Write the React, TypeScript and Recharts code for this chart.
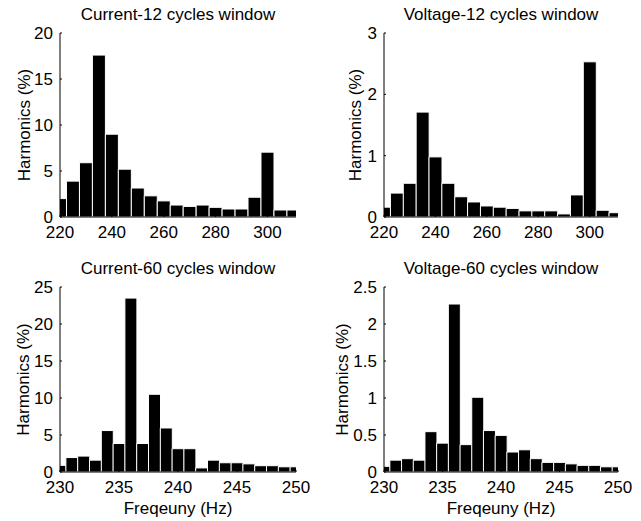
import React from "react";
import {Bar, BarChart, XAxis, YAxis} from "recharts";

// frequency bins (Hz)
const freq12 = [220, 225, 230, 235, 240, 245, 250, 255, 260, 265, 270, 275, 280, 285, 290, 295, 300, 305, 310];
const freq60 = [230, 231, 232, 233, 234, 235, 236, 237, 238, 239, 240, 241, 242, 243, 244, 245, 246, 247, 248, 249, 250];

// harmonics (%)
const current12 = [2.0, 3.9, 5.9, 17.6, 9.0, 5.2, 3.15, 2.3, 1.75, 1.3, 1.15, 1.3, 1.05, 0.87, 0.87, 2.15, 7.05, 0.76, 0.76];
const voltage12 = [0.16, 0.39, 0.55, 1.71, 0.98, 0.55, 0.33, 0.245, 0.18, 0.16, 0.14, 0.1, 0.1, 0.1, 0.05, 0.36, 2.53, 0.11, 0.07];
const current60 = [0.9, 1.95, 2.15, 1.6, 5.6, 3.85, 23.5, 3.85, 10.5, 5.95, 3.15, 3.15, 0.55, 1.6, 1.25, 1.25, 1.1, 0.85, 0.85, 0.7, 0.7];
const voltage60 = [0.077, 0.16, 0.18, 0.16, 0.545, 0.39, 2.27, 0.37, 1.01, 0.56, 0.495, 0.27, 0.3, 0.18, 0.13, 0.13, 0.11, 0.09, 0.09, 0.07, 0.07];

const xTicks12 = [220, 240, 260, 280, 300];
const xTicks60 = [230, 235, 240, 245, 250];

const FONT = '"Liberation Sans", Arial, Helvetica, sans-serif';
const FS = 17;
const tickStyle = {fill: "#000", fontSize: FS, fontFamily: FONT};
const noLabel = () => <g/>;

interface PanelProps {
  title: string;
  freqs: number[];
  values: number[];
  xDomain: [number, number];
  xTicks: number[];
  yMax: number;
  yTicks: number[];
  left: number;
  top: number;
  width: number;
  height: number;
  plotLeft: number;
  plotRight: number;
  plotTop: number;
  plotBottom: number;
  yLabelX: number;
  xLabel?: string;
}

function Panel(p: PanelProps) {
  const data = p.freqs.map((f, i) => ({f, v: p.values[i]}));
  const plotCx = (p.plotLeft + p.plotRight) / 2;

  const yLabel = ({viewBox}: any) => {
    const cy = viewBox.y + viewBox.height / 2;
    return (
      <text x={p.yLabelX} y={cy} transform={`rotate(-90 ${p.yLabelX} ${cy})`} textAnchor="middle"
            dominantBaseline="central" fontSize={FS} fontFamily={FONT} fill="#000">
        Harmonics (%)
      </text>
    );
  };

  const xLabel = () => (
    <text x={plotCx} y={p.plotBottom + 42} textAnchor="middle" fontSize={FS} fontFamily={FONT} fill="#000">
      {p.xLabel}
    </text>
  );

  return (
    <div style={{position: "absolute", left: p.left, top: p.top, width: p.width, height: p.height}}>
      <div style={{
        position: "absolute", left: plotCx - 150, width: 300, top: p.plotTop - 27, textAlign: "center",
        fontSize: FS, lineHeight: `${FS}px`, fontFamily: FONT, color: "#000", whiteSpace: "nowrap"
      }}>
        {p.title}
      </div>
      <BarChart width={p.width} height={p.height} data={data} barCategoryGap={0}
                margin={{top: p.plotTop, right: p.width - p.plotRight, left: 0, bottom: 0}}>
        <Bar dataKey="v" fill="#000" stroke="#fff" strokeWidth={1} isAnimationActive={false}/>
        <XAxis dataKey="f" type="number" domain={p.xDomain} allowDataOverflow ticks={p.xTicks}
               height={p.height - p.plotBottom} tickSize={-2} tickMargin={11} tick={tickStyle}
               axisLine={{stroke: "#000"}} tickLine={{stroke: "#000"}} interval={0}
               label={p.xLabel ? xLabel : undefined}/>
        <XAxis xAxisId="top" dataKey="f" type="number" domain={p.xDomain} allowDataOverflow ticks={p.xTicks}
               orientation="top" height={0} tickSize={-2} tick={noLabel} interval={0}
               axisLine={{stroke: "#000"}} tickLine={{stroke: "#000"}}/>
        <YAxis type="number" domain={[0, p.yMax]} ticks={p.yTicks} allowDataOverflow width={p.plotLeft}
               tickSize={-2} tickMargin={9} tick={tickStyle} interval={0}
               axisLine={{stroke: "#000"}} tickLine={{stroke: "#000"}} label={yLabel}/>
        <YAxis yAxisId="right" type="number" domain={[0, p.yMax]} ticks={p.yTicks} orientation="right" width={0}
               allowDataOverflow tickSize={-2} tick={noLabel} interval={0}
               axisLine={{stroke: "#000"}} tickLine={{stroke: "#000"}}/>
      </BarChart>
    </div>
  );
}

export default function App() {
  return (
    <div style={{position: "absolute", left: 0, top: 0, width: 641, height: 521, background: "#fff"}}>
      <Panel title="Current-12 cycles window" freqs={freq12} values={current12} xDomain={[220, 311]}
             xTicks={xTicks12} yMax={20} yTicks={[0, 5, 10, 15, 20]}
             left={0} top={0} width={320} height={250} plotLeft={60} plotRight={296} plotTop={33} plotBottom={217}
             yLabelX={24.5}/>
      <Panel title="Voltage-12 cycles window" freqs={freq12} values={voltage12} xDomain={[220, 311]}
             xTicks={xTicks12} yMax={3} yTicks={[0, 1, 2, 3]}
             left={320} top={0} width={321} height={250} plotLeft={64} plotRight={298} plotTop={33} plotBottom={217}
             yLabelX={35.5}/>
      <Panel title="Current-60 cycles window" freqs={freq60} values={current60} xDomain={[230, 250]}
             xTicks={xTicks60} yMax={25} yTicks={[0, 5, 10, 15, 20, 25]}
             left={0} top={250} width={320} height={271} plotLeft={60} plotRight={296} plotTop={37} plotBottom={222}
             yLabelX={23.5} xLabel="Freqeuny (Hz)"/>
      <Panel title="Voltage-60 cycles window" freqs={freq60} values={voltage60} xDomain={[230, 250]}
             xTicks={xTicks60} yMax={2.5} yTicks={[0, 0.5, 1, 1.5, 2, 2.5]}
             left={320} top={250} width={321} height={271} plotLeft={64} plotRight={298} plotTop={37} plotBottom={222}
             yLabelX={22} xLabel="Freqeuny (Hz)"/>
    </div>
  );
}
